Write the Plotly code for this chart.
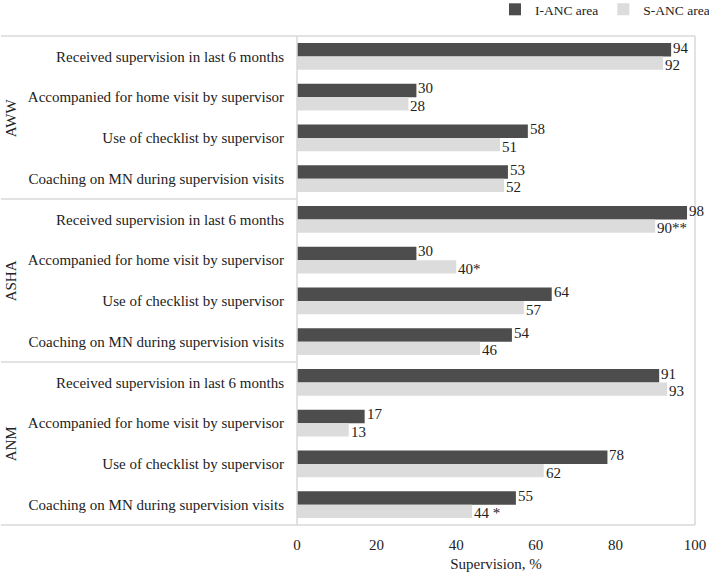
import plotly.graph_objects as go

groups = ["AWW", "ASHA", "ANM"]
items = [
    "Received supervision in last 6 months",
    "Accompanied for home visit by supervisor",
    "Use of checklist by supervisor",
    "Coaching on MN during supervision visits",
]
i_anc = [94, 30, 58, 53, 98, 30, 64, 54, 91, 17, 78, 55]
s_anc = [92, 28, 51, 52, 90, 40, 57, 46, 93, 13, 62, 44]
s_anc_text = ["92", "28", "51", "52", "90**", "40*", "57", "46", "93", "13", "62", "44 *"]
i_anc_text = [str(v) for v in i_anc]

labels = items * len(groups)
pos = list(range(len(labels)))

FONT = "Liberation Serif, Times New Roman, serif"
DARK = "#4d4d4d"
LIGHT = "#dcdcdc"
BORDER = "#d9d9d9"
TXT = "#222222"

BARGAP = 0.34
half = (1 - BARGAP) / 4  # offset of each bar center from category center

fig = go.Figure()
fig.add_trace(go.Bar(
    y=pos, x=i_anc, orientation="h", name="I-ANC area",
    marker=dict(color=DARK, line=dict(width=0)),
))
fig.add_trace(go.Bar(
    y=pos, x=s_anc, orientation="h", name="S-ANC area",
    marker=dict(color=LIGHT, line=dict(width=0)),
))

L, R, T, B = 296.5, 14, 35.5, 47
W, H = 709, 572
pw = W - L - R
ph = H - T - B
x0p = -L / pw

shapes = []
for yy in [1, 0]:
    shapes.append(dict(type="line", xref="paper", yref="paper", x0=x0p, x1=1, y0=yy, y1=yy,
                       line=dict(color=BORDER, width=1.5)))
shapes.append(dict(type="line", xref="paper", yref="paper", x0=1, x1=1, y0=0, y1=1,
                   line=dict(color=BORDER, width=1.5)))
shapes.append(dict(type="line", xref="paper", yref="paper", x0=0, x1=0, y0=0, y1=1,
                   line=dict(color=BORDER, width=1.5)))
n = len(items)
for g in range(1, len(groups)):
    yv = g * n - 0.5
    shapes.append(dict(type="line", xref="paper", yref="y", x0=x0p, x1=0, y0=yv, y1=yv,
                       line=dict(color=BORDER, width=1.5)))

annotations = []
for g, name in enumerate(groups):
    yc = g * n + (n - 1) / 2
    annotations.append(dict(text=name, xref="paper", yref="y", x=x0p + 10 / pw, y=yc,
                            showarrow=False, textangle=-90, xanchor="center", yanchor="middle",
                            font=dict(family=FONT, size=15, color=TXT)))

# value labels
for p, v, t in zip(pos, i_anc, i_anc_text):
    annotations.append(dict(text=t, x=v, y=p - half, xref="x", yref="y", showarrow=False,
                            xanchor="left", yanchor="middle", xshift=0, yshift=2,
                            font=dict(family=FONT, size=15, color=TXT)))
for p, v, t in zip(pos, s_anc, s_anc_text):
    annotations.append(dict(text=t, x=v, y=p + half, xref="x", yref="y", showarrow=False,
                            xanchor="left", yanchor="middle", xshift=0, yshift=-2,
                            font=dict(family=FONT, size=15, color=TXT)))

fig.update_layout(
    width=W, height=H,
    margin=dict(l=L, r=R, t=T, b=B, pad=0, autoexpand=False),
    paper_bgcolor="white", plot_bgcolor="white",
    barmode="group", bargap=BARGAP, bargroupgap=0,
    font=dict(family=FONT, size=15, color=TXT),
    shapes=shapes, annotations=annotations,
    legend=dict(orientation="h", x=(715 - L) / pw, xanchor="right",
                y=1 + (35.5 - 9) / ph, yanchor="middle",
                font=dict(size=13.5, color=TXT), itemwidth=30, tracegroupgap=0,
                bgcolor="rgba(0,0,0,0)"),
    xaxis=dict(range=[0, 100], tickvals=[0, 20, 40, 60, 80, 100], showgrid=False,
               zeroline=False, showline=False, ticks="", ticklabelstandoff=9,
               title=dict(text="Supervision, %", standoff=6, font=dict(size=15))),
    yaxis=dict(tickvals=pos, ticktext=labels, range=[len(pos) - 0.5, -0.5],
               showgrid=False, zeroline=False, showline=False, ticks="",
               ticklabelstandoff=12),
)

fig.write_html("out.html", config={"displayModeBar": False},
               post_script="document.body.style.margin='0';document.body.style.overflow='hidden';")
